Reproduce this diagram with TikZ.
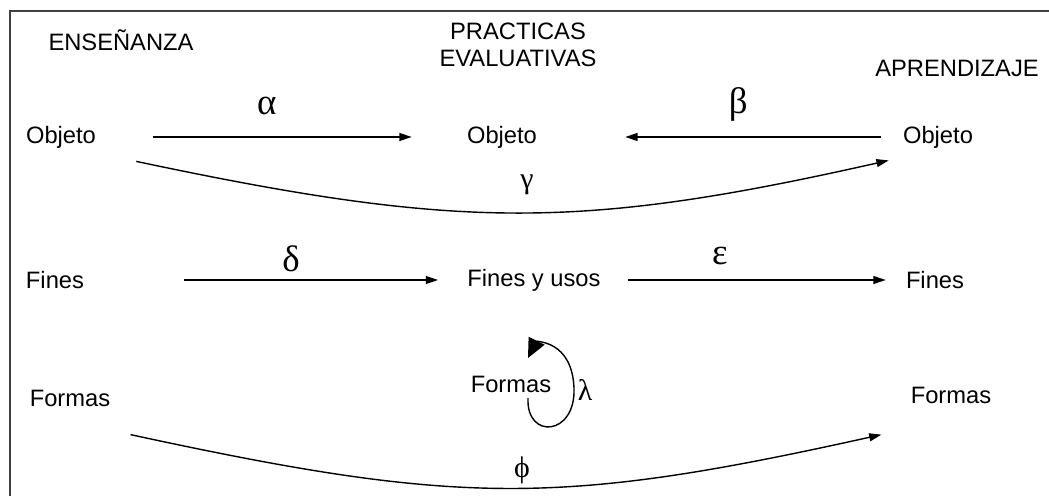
\documentclass[tikz,border=0pt]{standalone}
\usepackage{fontspec}
\setmainfont{Liberation Sans}
\newfontfamily\grk{Liberation Serif}
\usepackage{xcolor}
\usetikzlibrary{arrows.meta, positioning}

\begin{document}
\begin{tikzpicture}[
    x=0.02cm, y=-0.02cm,
    txt/.style={inner sep=0pt, font=\fontsize{13.5}{15}\selectfont},
    head/.style={inner sep=0pt, align=center, font=\fontsize{13.5}{15}\selectfont},
    glbl/.style={inner sep=0pt, font=\grk\fontsize{21}{23}\selectfont},
    glbs/.style={inner sep=0pt, font=\grk\fontsize{17}{19}\selectfont},
    arrow/.style={-{Triangle[length=7pt, width=4.5pt]}, line width=0.8pt},
    frame/.style={line width=1.1pt, draw=black!75}
]
\useasboundingbox (0,0) rectangle (1049,496);
\draw[frame] (10,496) -- (10,11) -- (1049,11);

% --- encabezados ---
\node[head] (hE) at (121,40) {ENSEÑANZA};
\node[head] (hP) at (518,45) {PRACTICAS\\EVALUATIVAS};
\node[head] (hA) at (957,68) {APRENDIZAJE};

% --- fila 1: objeto ---
\node[txt] (objE) at (61,137) {Objeto};
\node[txt] (objP) at (502,137) {Objeto};
\node[txt] (objA) at (938,137) {Objeto};
\draw[arrow, shorten <=1.14cm, shorten >=1.1cm] (objE.east) -- (objP.west)
    node[glbl, pos=0.46, above=0.42cm] (alpha) {α};
\draw[arrow, shorten <=0.44cm, shorten >=1.76cm] (objA.west) -- (objP.east)
    node[glbl, pos=0.45, above=0.3cm] (beta) {β};
\draw[arrow] ([shift={(40,13)}]objE.south east)
    .. controls (460,230) and (580,230) .. ([shift={(-14,12)}]objA.south west);
\node[glbs] (gamma) at (527,185) {γ};

% --- fila 2: fines ---
\node[txt] (finE) at (55,280) {Fines};
\node[txt] (finP) at (534,280) {Fines y usos};
\node[txt] (finA) at (935,280) {Fines};
\draw[arrow, shorten <=2cm, shorten >=0.58cm] (finE.east) -- (finP.west)
    node[glbl, pos=0.54, above=0.14cm] (delta) {δ};
\draw[arrow, shorten <=0.54cm, shorten >=0.4cm] (finP.east) -- (finA.west)
    node[glbl, pos=0.39, above=0.28cm] (eps) {ε};

% --- fila 3: formas ---
\node[txt] (forE) at (70,398) {Formas};
\node[txt] (forP) at (511,384) {Formas};
\node[txt] (forA) at (951,395) {Formas};
\draw[arrow, -{Triangle[length=11pt, width=10pt]}] (528,398)
    .. controls (526,440) and (576,436) .. (574,388)
    .. controls (572,340) and (536,342) .. (528,358);
\node[glbs] (lambda) at (585,390) {λ};
\draw[arrow] ([shift={(20,28)}]forE.south east)
    .. controls (460,506) and (560,506) .. ([shift={(-29,31)}]forA.south west);
\node[glbs] (phi) at (522,470) {ϕ};
\end{tikzpicture}
\end{document}
